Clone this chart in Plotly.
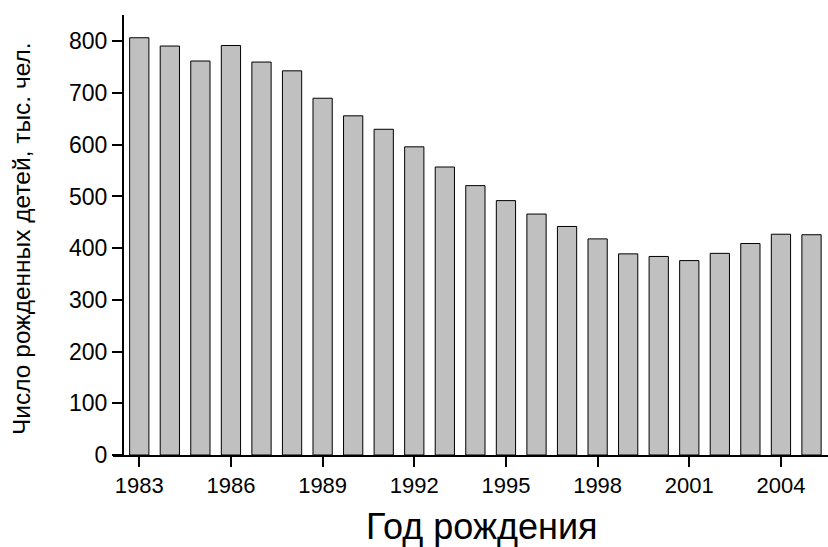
import plotly.graph_objects as go

years = list(range(1983, 2006))
births = [807, 791, 762, 792, 760, 743, 690, 656, 630, 596, 557,
          521, 492, 466, 442, 418, 389, 384, 376, 390, 409, 427, 426]
tick_years = [1983, 1986, 1989, 1992, 1995, 1998, 2001, 2004]
y_ticks = [0, 100, 200, 300, 400, 500, 600, 700, 800]

W, H = 828, 547
ml, mr, mt, mb = 113, 0, 15, 92

fig = go.Figure()
fig.add_trace(go.Bar(
    x=years, y=births,
    marker=dict(color="#c0c0c0", line=dict(color="#000000", width=1)),
    width=0.63,
    showlegend=False,
))

font = "Liberation Sans, Arial, sans-serif"
fig.update_layout(
    width=W, height=H,
    margin=dict(l=ml, r=mr, t=mt, b=mb, pad=0),
    paper_bgcolor="white", plot_bgcolor="white",
    font=dict(family=font, size=22, color="black"),
    xaxis=dict(
        range=[1982.14, 2005.54],
        tickmode="array", tickvals=tick_years, ticktext=[str(t) for t in tick_years],
        ticks="outside", ticklen=10, tickwidth=1.5, tickcolor="black",
        showline=True, linecolor="black", linewidth=2,
        showgrid=False, zeroline=False,
        tickfont=dict(family=font, size=22),
    ),
    yaxis=dict(
        range=[0, 851],
        anchor="free", position=(123 - ml) / (W - ml - mr),
        tickmode="array", tickvals=y_ticks,
        ticks="outside", ticklen=10, tickwidth=1.5, tickcolor="black",
        showline=True, linecolor="black", linewidth=2,
        showgrid=False, zeroline=False,
        tickfont=dict(family=font, size=23),
    ),
    annotations=[
        dict(text="Год рождения", xref="paper", yref="paper",
             x=(482 - ml) / (W - ml - mr), y=-(526 - (H - mb)) / (H - mt - mb),
             showarrow=False, font=dict(family=font, size=36),
             xanchor="center", yanchor="middle"),
        dict(text="Число рожденных детей, тыс. чел.", xref="paper", yref="paper",
             x=-(ml - 22) / (W - ml - mr), y=((H - mb) - 239) / (H - mt - mb),
             textangle=-90, showarrow=False, font=dict(family=font, size=24.5),
             xanchor="center", yanchor="middle"),
    ],
)

fig.write_html("out.html", config={"displayModeBar": False})

with open("out.html", "r", encoding="utf-8") as f:
    html = f.read()
html = html.replace("<body>", '<body style="margin:0;padding:0;">', 1)
with open("out.html", "w", encoding="utf-8") as f:
    f.write(html)
